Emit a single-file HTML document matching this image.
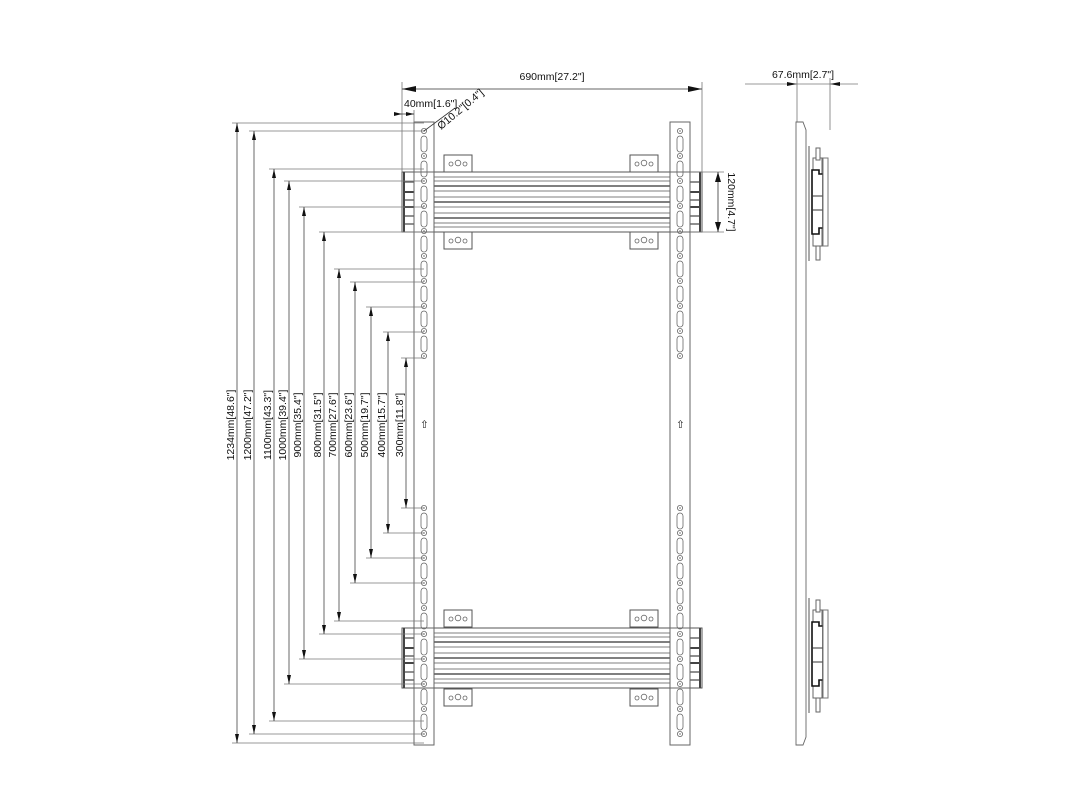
<!DOCTYPE html>
<html><head><meta charset="utf-8"><style>
html,body{margin:0;padding:0;background:#fff;}
svg{display:block;}
text{font-family:"Liberation Sans",sans-serif;font-size:10.5px;fill:#111;}
</style></head><body>
<svg width="1080" height="811" viewBox="0 0 1080 811" xmlns="http://www.w3.org/2000/svg">
<defs>
<g id="hc"><circle r="2.6" fill="none" stroke="#666" stroke-width="0.8"/><circle r="0.9" fill="#888"/></g>
<g id="sl"><rect x="-3" y="-8" width="6" height="16" rx="3" fill="none" stroke="#666" stroke-width="0.8"/></g>
<g id="holesTop">
<use href="#hc" y="131"/><use href="#sl" y="144"/><use href="#hc" y="156"/><use href="#sl" y="169"/>
<use href="#hc" y="181"/><use href="#sl" y="194"/><use href="#hc" y="206"/><use href="#sl" y="219"/>
<use href="#hc" y="231"/><use href="#sl" y="244"/><use href="#hc" y="256"/><use href="#sl" y="269"/>
<use href="#hc" y="281"/><use href="#sl" y="294"/><use href="#hc" y="306"/><use href="#sl" y="319"/>
<use href="#hc" y="331"/><use href="#sl" y="344"/><use href="#hc" y="356"/>
</g>
<g id="holesBot">
<use href="#hc" y="508"/><use href="#sl" y="521"/><use href="#hc" y="533"/><use href="#sl" y="546"/>
<use href="#hc" y="558"/><use href="#sl" y="571"/><use href="#hc" y="583"/><use href="#sl" y="596"/>
<use href="#hc" y="608"/><use href="#sl" y="621"/><use href="#hc" y="634"/><use href="#sl" y="647"/>
<use href="#hc" y="659"/><use href="#sl" y="672"/><use href="#hc" y="684"/><use href="#sl" y="697"/>
<use href="#hc" y="709"/><use href="#sl" y="722"/><use href="#hc" y="734"/>
</g>
<g id="bar">
<rect x="402" y="0" width="300" height="60" fill="#fff" stroke="#555" stroke-width="1"/>
<g stroke="#555" stroke-width="0.8">
<line x1="434" y1="5" x2="670" y2="5"/><line x1="434" y1="9" x2="670" y2="9"/>
<line x1="434" y1="14" x2="670" y2="14" stroke-width="1.6"/><line x1="434" y1="19" x2="670" y2="19"/>
<line x1="434" y1="25" x2="670" y2="25"/><line x1="434" y1="30" x2="670" y2="30" stroke-width="1.6"/>
<line x1="434" y1="35" x2="670" y2="35"/><line x1="434" y1="41" x2="670" y2="41"/>
<line x1="434" y1="46" x2="670" y2="46" stroke-width="1.6"/><line x1="434" y1="51" x2="670" y2="51"/>
<line x1="434" y1="55" x2="670" y2="55"/>
</g>
<g stroke="#444" stroke-width="1.2">
<line x1="404" y1="0" x2="404" y2="60" stroke-width="2"/><line x1="700" y1="0" x2="700" y2="60" stroke-width="2"/>
<line x1="404" y1="10" x2="414" y2="10"/><line x1="404" y1="20" x2="414" y2="20" stroke-width="2"/><line x1="404" y1="28" x2="414" y2="28"/>
<line x1="404" y1="35" x2="414" y2="35" stroke-width="2"/><line x1="404" y1="44" x2="414" y2="44"/><line x1="404" y1="52" x2="414" y2="52"/>
<line x1="690" y1="10" x2="700" y2="10"/><line x1="690" y1="20" x2="700" y2="20" stroke-width="2"/><line x1="690" y1="28" x2="700" y2="28"/>
<line x1="690" y1="35" x2="700" y2="35" stroke-width="2"/><line x1="690" y1="44" x2="700" y2="44"/><line x1="690" y1="52" x2="700" y2="52"/>
</g>
</g>
<g id="brk"><rect x="0" y="0" width="28" height="17" fill="#fff" stroke="#555" stroke-width="1"/>
<circle cx="7" cy="9" r="2" fill="none" stroke="#666" stroke-width="0.8"/><circle cx="14" cy="8" r="2.8" fill="none" stroke="#666" stroke-width="0.8"/><circle cx="21" cy="9" r="2" fill="none" stroke="#666" stroke-width="0.8"/></g>
<g id="side">
<line x1="809" y1="0" x2="809" y2="115" stroke="#555"/>
<path d="M813 12 L822 12 L822 100 L813 100 Z" fill="none" stroke="#666"/>
<path d="M812 24 L819 24 L819 28 L823 28 L823 82 L819 82 L819 88 L812 88 Z" fill="#fff" stroke="#111" stroke-width="1.6"/>
<line x1="812" y1="50" x2="823" y2="50" stroke="#333"/><line x1="812" y1="64" x2="823" y2="64" stroke="#333"/>
<rect x="816" y="2" width="4" height="12" fill="#fff" stroke="#666"/>
<rect x="816" y="100" width="4" height="14" fill="#fff" stroke="#666"/>
<rect x="823" y="12" width="5" height="88" fill="#fff" stroke="#777"/>
</g>
</defs>

<rect x="414" y="122" width="20" height="623" fill="#fff" stroke="#666"/>
<rect x="670" y="122" width="20" height="623" fill="#fff" stroke="#666"/>
<use href="#bar" y="172"/>
<use href="#bar" y="628"/>
<rect x="414" y="172" width="20" height="60" fill="#fff" stroke="#666"/>
<rect x="670" y="172" width="20" height="60" fill="#fff" stroke="#666"/>
<rect x="414" y="628" width="20" height="60" fill="#fff" stroke="#666"/>
<rect x="670" y="628" width="20" height="60" fill="#fff" stroke="#666"/>
<use href="#holesTop" x="424"/><use href="#holesBot" x="424"/>
<use href="#holesTop" x="680"/><use href="#holesBot" x="680"/>
<text x="420" y="428" font-size="9">⇧</text><text x="676" y="428" font-size="9">⇧</text>
<use href="#brk" x="444" y="155"/><use href="#brk" x="630" y="155"/>
<use href="#brk" x="444" y="232"/><use href="#brk" x="630" y="232"/>
<use href="#brk" x="444" y="610"/><use href="#brk" x="630" y="610"/>
<use href="#brk" x="444" y="689"/><use href="#brk" x="630" y="689"/>

<g stroke="#777" stroke-width="0.8" fill="none">
<line x1="402" y1="82" x2="402" y2="172"/><line x1="702" y1="82" x2="702" y2="172"/>
<line x1="414" y1="110" x2="414" y2="122"/>
<line x1="690" y1="172" x2="724" y2="172"/><line x1="690" y1="232" x2="724" y2="232"/>
<line x1="797" y1="78" x2="797" y2="122"/><line x1="830" y1="78" x2="830" y2="130"/>
<line x1="745" y1="84" x2="858" y2="84"/>
</g>
<line x1="402" y1="89" x2="702" y2="89" stroke="#333" stroke-width="0.8"/>
<path d="M402 89 l14 -3 v6 z M702 89 l-14 -3 v6 z" fill="#111"/>
<line x1="394" y1="114" x2="414" y2="114" stroke="#333" stroke-width="0.8"/>
<path d="M402 114 l-8 -2 v4 z M414 114 l-8 -2 v4 z" fill="#111"/>
<line x1="424" y1="131" x2="455" y2="108" stroke="#333" stroke-width="0.8"/>
<line x1="718" y1="172" x2="718" y2="232" stroke="#333" stroke-width="0.8"/>
<path d="M718 172 l-3 10 h6 z M718 232 l-3 -10 h6 z" fill="#111"/>
<path d="M797 84 l-10 -2 v4 z M830 84 l10 -2 v4 z" fill="#111"/>
<text x="552" y="80" text-anchor="middle">690mm[27.2"]</text>
<text x="404" y="107">40mm[1.6"]</text>
<text x="0" y="0" transform="translate(441,130) rotate(-40)">Ø10.2"[0.4"]</text>
<text x="0" y="0" transform="translate(728,202) rotate(90)" text-anchor="middle">120mm[4.7"]</text>
<text x="803" y="78" text-anchor="middle">67.6mm[2.7"]</text>

<g stroke="#777" stroke-width="0.8">
<line x1="232" y1="123" x2="424" y2="123"/><line x1="232" y1="743" x2="424" y2="743"/>
<line x1="249" y1="131" x2="424" y2="131"/><line x1="249" y1="734" x2="424" y2="734"/>
<line x1="269" y1="169" x2="424" y2="169"/><line x1="269" y1="721" x2="424" y2="721"/>
<line x1="284" y1="181" x2="424" y2="181"/><line x1="284" y1="684" x2="424" y2="684"/>
<line x1="299" y1="207" x2="424" y2="207"/><line x1="299" y1="659" x2="424" y2="659"/>
<line x1="319" y1="232" x2="424" y2="232"/><line x1="319" y1="634" x2="424" y2="634"/>
<line x1="334" y1="269" x2="424" y2="269"/><line x1="334" y1="621" x2="424" y2="621"/>
<line x1="350" y1="282" x2="424" y2="282"/><line x1="350" y1="583" x2="424" y2="583"/>
<line x1="366" y1="307" x2="424" y2="307"/><line x1="366" y1="558" x2="424" y2="558"/>
<line x1="383" y1="332" x2="424" y2="332"/><line x1="383" y1="533" x2="424" y2="533"/>
<line x1="401" y1="358" x2="424" y2="358"/><line x1="401" y1="508" x2="424" y2="508"/>
</g>
<g stroke="#444" stroke-width="0.8">
<line x1="237" y1="123" x2="237" y2="743"/><line x1="254" y1="131" x2="254" y2="734"/>
<line x1="274" y1="169" x2="274" y2="721"/><line x1="289" y1="181" x2="289" y2="684"/>
<line x1="304" y1="207" x2="304" y2="659"/><line x1="324" y1="232" x2="324" y2="634"/>
<line x1="339" y1="269" x2="339" y2="621"/><line x1="355" y1="282" x2="355" y2="583"/>
<line x1="371" y1="307" x2="371" y2="558"/><line x1="388" y1="332" x2="388" y2="533"/>
<line x1="406" y1="358" x2="406" y2="508"/>
</g>
<g fill="#111">
<path d="M237 123 l-2 9 h4z M237 743 l-2 -9 h4z"/><path d="M254 131 l-2 9 h4z M254 734 l-2 -9 h4z"/>
<path d="M274 169 l-2 9 h4z M274 721 l-2 -9 h4z"/><path d="M289 181 l-2 9 h4z M289 684 l-2 -9 h4z"/>
<path d="M304 207 l-2 9 h4z M304 659 l-2 -9 h4z"/><path d="M324 232 l-2 9 h4z M324 634 l-2 -9 h4z"/>
<path d="M339 269 l-2 9 h4z M339 621 l-2 -9 h4z"/><path d="M355 282 l-2 9 h4z M355 583 l-2 -9 h4z"/>
<path d="M371 307 l-2 9 h4z M371 558 l-2 -9 h4z"/><path d="M388 332 l-2 9 h4z M388 533 l-2 -9 h4z"/>
<path d="M406 358 l-2 9 h4z M406 508 l-2 -9 h4z"/>
</g>
<g>
<text transform="translate(234,425) rotate(-90)" text-anchor="middle">1234mm[48.6"]</text>
<text transform="translate(251,425) rotate(-90)" text-anchor="middle">1200mm[47.2"]</text>
<text transform="translate(271,425) rotate(-90)" text-anchor="middle">1100mm[43.3"]</text>
<text transform="translate(286,425) rotate(-90)" text-anchor="middle">1000mm[39.4"]</text>
<text transform="translate(301,425) rotate(-90)" text-anchor="middle">900mm[35.4"]</text>
<text transform="translate(321,425) rotate(-90)" text-anchor="middle">800mm[31.5"]</text>
<text transform="translate(336,425) rotate(-90)" text-anchor="middle">700mm[27.6"]</text>
<text transform="translate(352,425) rotate(-90)" text-anchor="middle">600mm[23.6"]</text>
<text transform="translate(368,425) rotate(-90)" text-anchor="middle">500mm[19.7"]</text>
<text transform="translate(385,425) rotate(-90)" text-anchor="middle">400mm[15.7"]</text>
<text transform="translate(403,425) rotate(-90)" text-anchor="middle">300mm[11.8"]</text>
</g>

<path d="M796 122 L803 122 L806 130 L806 737 L803 745 L796 745 Z" fill="#fff" stroke="#666" stroke-width="0.9"/>
<use href="#side" y="146"/>
<use href="#side" y="598"/>
</svg>
</body></html>
